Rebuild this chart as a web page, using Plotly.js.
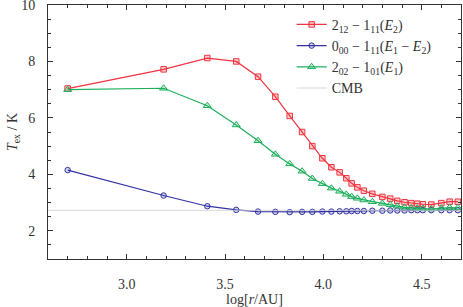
<!DOCTYPE html>
<html>
<head>
<meta charset="utf-8">
<script src="https://cdn.plot.ly/plotly-3.0.1.min.js"></script>
<style>html,body{margin:0;padding:0;background:#fff;}#chart{width:463px;height:307px;}</style>
</head>
<body>
<div id="chart"></div>
<script>
// log radius (AU)
const logR = [2.70, 3.188, 3.41, 3.557, 3.668, 3.756, 3.829, 3.892, 3.944, 3.995,
              4.041, 4.083, 4.117, 4.144, 4.173, 4.206, 4.249, 4.300, 4.340, 4.376,
              4.413, 4.447, 4.478, 4.506, 4.549, 4.600, 4.642, 4.684];
// 2_12 - 1_11 (E2)
const tex212 = [7.04, 7.72, 8.12, 8.00, 7.46, 6.75, 6.07, 5.50, 5.00, 4.57,
                4.25, 4.07, 3.86, 3.68, 3.54, 3.42, 3.31, 3.20, 3.14, 3.06,
                3.01, 2.98, 2.96, 2.94, 2.93, 2.98, 3.03, 3.03];
// 0_00 - 1_11 (E1 - E2)
const tex000 = [4.15, 3.25, 2.87, 2.74, 2.68, 2.67, 2.66, 2.67, 2.67, 2.68,
                2.68, 2.69, 2.69, 2.70, 2.70, 2.70, 2.71, 2.71, 2.72, 2.72,
                2.72, 2.73, 2.73, 2.73, 2.73, 2.73, 2.73, 2.73];
// 2_02 - 1_01 (E1)
const tex202 = [7.00, 7.05, 6.43, 5.75, 5.19, 4.71, 4.37, 4.11, 3.85, 3.67,
                3.51, 3.40, 3.29, 3.21, 3.15, 3.09, 3.03, 2.97, 2.92, 2.87,
                2.83, 2.81, 2.80, 2.79, 2.77, 2.80, 2.82, 2.82];
const cmbX = [2.6, 4.7];
const cmbY = [2.725, 2.725];

const names = ['2<sub>12</sub> \u2212 1<sub>11</sub>(<i>E</i><sub>2</sub>)',
               '0<sub>00</sub> \u2212 1<sub>11</sub>(<i>E</i><sub>1</sub> \u2212 <i>E</i><sub>2</sub>)',
               '2<sub>02</sub> \u2212 1<sub>01</sub>(<i>E</i><sub>1</sub>)',
               'CMB'];
const xTickVals = [3.0, 3.5, 4.0, 4.5];
const xTickText = ['3.0', '3.5', '4.0', '4.5'];
const yTickVals = [2, 4, 6, 8, 10];
const yTickText = ['2', '4', '6', '8', '10'];

const red = 'rgb(240,52,64)', blue = 'rgb(50,50,165)', green = 'rgb(28,175,92)';
const font = 'Liberation Serif';

const traces = [
  {x: logR, y: tex212, name: names[0], mode: 'lines+markers',
   line: {color: red, width: 1.2},
   marker: {symbol: 'square', size: 5.5, color: 'rgba(240,52,64,0.25)', line: {color: red, width: 1}}},
  {x: logR, y: tex000, name: names[1], mode: 'lines+markers',
   line: {color: blue, width: 1.2},
   marker: {symbol: 'circle', size: 5.5, color: 'rgba(50,50,165,0.2)', line: {color: blue, width: 1}}},
  {x: logR, y: tex202, name: names[2], mode: 'lines+markers',
   line: {color: green, width: 1.2},
   marker: {symbol: 'triangle-up', size: 7, color: 'rgba(28,175,92,0.2)', line: {color: green, width: 1}}},
  {x: cmbX, y: cmbY, name: names[3], mode: 'lines',
   line: {color: 'rgb(205,205,205)', width: 0.8}}
];

const axisCommon = {
  showline: true, linecolor: '#333', linewidth: 1, mirror: 'allticks',
  ticks: 'inside', ticklen: 5, tickcolor: '#333', tickwidth: 1,
  showgrid: false, zeroline: false, ticklabeloverflow: 'allow',
  tickfont: {family: font, size: 14, color: '#333'}
};

const layout = {
  width: 463, height: 307,
  margin: {l: 48, r: 2, t: 5, b: 48},
  paper_bgcolor: '#fff', plot_bgcolor: '#fff',
  font: {family: font, size: 14, color: '#333'},
  showlegend: true,
  legend: {x: 0.59, y: 0.985, xanchor: 'left', yanchor: 'top',
           bgcolor: 'rgba(0,0,0,0)', font: {family: font, size: 14, color: '#333'},
           tracegroupgap: 0, itemwidth: 30},
  xaxis: Object.assign({}, axisCommon, {
    range: [2.6, 4.7], tickmode: 'array', tickvals: xTickVals, ticktext: xTickText,
    ticklabelstandoff: 12,
    minor: {dtick: 0.1, tick0: 2.6, ticks: 'inside', ticklen: 3, tickcolor: '#333'},
    title: {text: 'log[<i>r</i>/AU]', font: {family: font, size: 14, color: '#333'}, standoff: 3}
  }),
  yaxis: Object.assign({}, axisCommon, {
    range: [1, 10], tickmode: 'array', tickvals: yTickVals, ticktext: yTickText,
    ticklabelstandoff: 9,
    minor: {dtick: 0.5, tick0: 1, ticks: 'inside', ticklen: 3, tickcolor: '#333'},
    title: {text: '<i>T</i><sub>ex</sub> / K', font: {family: font, size: 14, color: '#333'}, standoff: 0}
  })
};

Plotly.newPlot('chart', traces, layout, {staticPlot: true, displayModeBar: false});
</script>
</body>
</html>
